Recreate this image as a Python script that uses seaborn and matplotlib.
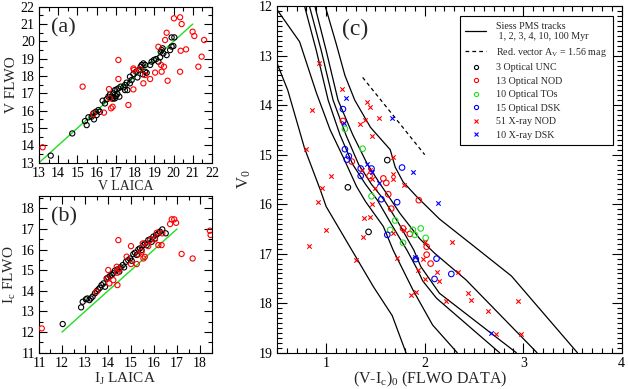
import numpy as np
import pandas as pd
import seaborn as sns
import matplotlib.pyplot as plt
from matplotlib.lines import Line2D
from matplotlib.ticker import MultipleLocator

# ---- panel (a): V FLWO vs V LAICA
a_blk_x = [13.61, 14.73, 15.39, 15.48, 15.57, 15.74, 15.83, 15.86, 15.95, 16.00, 16.09, 16.17,
           16.31, 16.43, 16.52, 16.61, 16.69, 16.78, 16.87, 16.95, 17.04, 17.08, 17.18, 16.95,
           17.13, 17.25, 17.39, 17.47, 17.56, 17.60, 17.73, 17.82, 17.91, 18.05, 18.12, 18.19,
           18.29, 18.34, 18.43, 18.52, 18.60, 18.78, 18.86, 18.98, 19.09, 19.21, 19.30, 19.33,
           19.38, 19.43, 19.47, 19.64, 19.82, 19.90, 19.99, 20.04, 19.90, 17.47, 16.87, 17.73,
           18.52, 17.00, 16.80, 18.40]
a_blk_y = [13.41, 14.69, 15.40, 15.17, 15.62, 15.66, 15.85, 15.50, 15.94, 15.75, 16.04, 15.94,
           16.58, 16.42, 16.66, 16.81, 16.94, 16.81, 17.00, 17.19, 17.23, 16.96, 16.81, 16.71,
           17.29, 17.39, 17.35, 17.48, 17.62, 17.19, 17.58, 17.77, 18.12, 18.25, 17.92, 18.35,
           18.54, 18.64, 18.73, 18.25, 18.19, 18.64, 18.83, 18.93, 18.98, 18.83, 19.08, 19.41,
           19.50, 19.60, 19.31, 19.21, 19.50, 19.70, 19.73, 20.23, 20.23, 17.19, 16.71, 17.96,
           18.64, 16.85, 16.70, 18.10]
a_red_x = [13.19, 15.27, 17.13, 17.13, 16.64, 16.69, 16.75, 16.83, 17.65, 16.38, 15.83, 17.91,
           17.91, 17.94, 18.26, 18.52, 18.78, 18.43, 19.04, 19.21, 19.35, 19.38, 19.50, 19.69,
           19.56, 19.64, 20.02, 20.34, 20.42, 20.37, 20.34, 20.65, 20.99, 21.08, 21.46, 21.29,
           21.59]
a_red_y = [13.89, 17.39, 18.93, 17.83, 17.25, 16.72, 16.14, 16.23, 16.33, 15.89, 15.81, 17.23,
           18.44, 18.35, 18.39, 18.06, 17.83, 17.58, 18.20, 19.69, 18.64, 18.25, 18.54, 17.73,
           20.08, 20.50, 21.33, 21.39, 21.00, 19.46, 18.25, 19.54, 20.56, 20.31, 19.12, 18.54,
           20.08]
a_line = [13, 21]

# ---- panel (b): Ic FLWO vs IJ LAICA
b_blk_x = [12.03, 12.83, 12.90, 13.04, 13.10, 13.19, 13.25, 13.33, 13.43, 13.51, 13.58, 13.65,
           13.72, 13.80, 13.87, 13.94, 14.01, 14.09, 14.16, 14.23, 14.30, 14.41, 14.49, 14.55,
           14.64, 14.70, 14.78, 14.88, 14.96, 15.03, 15.10, 15.17, 15.25, 15.32, 15.39, 15.46,
           15.54, 15.61, 15.68, 15.75, 15.83, 15.90, 15.97, 16.09, 16.19, 16.26, 16.36, 16.51,
           16.04]
b_blk_y = [12.39, 13.20, 13.47, 13.59, 13.63, 13.55, 13.63, 13.72, 13.88, 13.99, 14.07, 14.15,
           14.28, 14.36, 14.20, 14.60, 14.65, 14.72, 14.77, 14.85, 14.98, 15.04, 14.93, 15.14,
           15.25, 15.14, 15.41, 15.49, 15.57, 15.46, 15.78, 15.85, 15.74, 16.01, 16.06, 15.98,
           16.22, 16.30, 16.22, 16.46, 16.50, 16.38, 16.63, 16.71, 16.79, 16.87, 16.98, 16.79,
           16.54]
b_red_x = [11.12, 14.45, 14.01, 13.97, 14.06, 14.23, 14.41, 14.41, 14.49, 14.38, 14.81, 15.00,
           15.00, 15.25, 15.32, 15.46, 15.51, 15.54, 15.75, 15.83, 16.04, 16.12, 16.19, 16.33,
           16.36, 16.70, 16.77, 16.88, 16.96, 17.20, 17.68, 18.43, 18.46, 13.50, 15.60]
b_red_y = [12.18, 16.46, 15.01, 14.60, 14.36, 14.52, 14.28, 14.88, 15.04, 15.17, 15.66, 16.17,
           15.30, 15.30, 15.77, 15.90, 16.30, 15.57, 16.17, 16.46, 16.50, 16.82, 16.22, 16.22,
           16.79, 17.24, 17.47, 17.47, 17.30, 15.79, 15.57, 16.92, 16.71, 13.95, 15.65]
b_line = [12, 17]

# ---- panel (c): colour-magnitude diagram
track_ages = [100, 10, 4, 3, 2, 1]
track_x = [
    [0.50, 0.61, 0.78, 0.94, 1.00, 1.24, 1.48, 1.67, 1.81],
    [0.50, 0.73, 0.90, 1.04, 1.17, 1.31, 1.40, 1.58, 1.68, 1.88, 2.08, 2.33],
    [0.78, 0.90, 1.02, 1.14, 1.27, 1.40, 1.52, 1.66, 1.82, 1.92, 1.98, 2.12, 2.76],
    [0.83, 0.95, 1.07, 1.20, 1.33, 1.46, 1.59, 1.74, 1.89, 1.96, 2.15, 2.93],
    [0.885, 1.00, 1.12, 1.27, 1.42, 1.55, 1.66, 1.75, 1.95, 2.10, 2.42, 3.14],
    [0.99, 1.10, 1.19, 1.29, 1.45, 1.65, 1.70, 1.78, 1.92, 2.15, 2.50, 2.88, 3.55],
]
track_y = [
    [13.15, 13.70, 14.87, 15.71, 16.05, 16.86, 17.67, 18.25, 19.00],
    [12.07, 12.72, 13.75, 14.50, 15.04, 15.65, 15.95, 16.45, 16.93, 17.73, 18.44, 19.00],
    [12.00, 12.90, 13.90, 14.60, 15.20, 15.60, 15.92, 16.40, 16.93, 17.30, 17.55, 17.90, 19.00],
    [12.00, 12.90, 13.90, 14.60, 15.20, 15.60, 15.92, 16.40, 16.93, 17.26, 17.80, 19.00],
    [12.00, 12.90, 13.90, 14.60, 15.20, 15.60, 15.92, 16.19, 16.70, 16.99, 17.53, 19.00],
    [12.00, 12.75, 13.40, 13.90, 14.45, 14.90, 15.25, 15.55, 15.85, 16.30, 16.85, 17.45, 19.00],
]
red_vec_x = [1.37, 2.00]
red_vec_y = [13.44, 15.00]

unc_x = [1.62, 1.22, 1.43]
unc_y = [15.11, 15.66, 16.56]
nod_x = [1.17, 1.26, 1.44, 1.58, 1.61, 1.63, 1.94, 1.66, 1.78, 1.85, 2.02, 2.02, 2.06]
nod_y = [14.32, 15.14, 15.43, 15.48, 15.57, 15.80, 15.92, 16.09, 16.49, 16.60, 16.86, 17.02, 17.20]
tos_x = [1.19, 1.37, 1.46, 1.70, 1.65, 1.78, 1.88, 1.90, 1.96, 2.01]
tos_y = [14.48, 14.88, 15.84, 16.33, 16.52, 16.78, 16.52, 16.62, 16.49, 16.68]
dsk_x = [1.17, 1.19, 1.23, 1.21, 1.35, 1.46, 1.77, 1.35, 1.56, 1.72, 1.62, 1.91, 2.12, 2.27, 2.10]
dsk_y = [14.08, 14.89, 15.03, 15.10, 15.28, 15.28, 15.26, 15.43, 15.90, 15.96, 16.62, 17.11,
         17.10, 17.41, 17.51]
xnod_x = [0.93, 1.16, 0.86, 1.41, 1.44, 1.54, 1.39, 1.34, 1.46, 0.79, 1.68, 1.36, 1.05, 1.68,
          1.68, 1.46, 1.79, 0.96, 1.50, 0.92, 1.46, 1.38, 1.44, 1.00, 1.68, 1.79, 1.37, 0.83,
          2.00, 2.28, 1.30, 1.72, 1.98, 1.93, 2.12, 2.34, 2.00, 2.15, 1.91, 1.86, 2.44, 2.47,
          2.22, 2.95, 2.64, 2.72, 2.98, 1.44]
xnod_y = [13.14, 13.68, 14.10, 13.93, 14.03, 14.25, 14.30, 14.39, 14.62, 14.89, 15.04, 15.32,
          15.43, 15.39, 15.49, 15.50, 15.61, 15.67, 15.68, 15.95, 16.00, 16.27, 16.25, 16.52,
          16.59, 16.53, 16.66, 16.85, 16.77, 16.77, 17.12, 17.08, 17.11, 17.32, 17.38, 17.38,
          17.51, 17.56, 17.77, 17.84, 17.79, 17.94, 17.96, 17.95, 18.15, 18.63, 18.62, 15.31]
xdsk_x = [1.20, 1.18, 1.67, 1.41, 1.46, 1.88, 1.54, 2.13, 1.90, 2.67]
xdsk_y = [13.85, 14.37, 14.25, 15.18, 15.35, 15.36, 15.58, 15.97, 17.07, 18.60]

sns.set_style("ticks")
plt.rcParams['font.family'] = ['Liberation Serif', 'DejaVu Serif']
plt.rcParams['mathtext.fontset'] = 'custom'
plt.rcParams['mathtext.rm'] = 'Liberation Serif'
plt.rcParams['mathtext.it'] = 'Liberation Serif'
plt.rcParams['axes.linewidth'] = 0.8

fig = plt.figure(figsize=(6.28, 3.89), dpi=100)
ax_a = fig.add_axes([0.0621, 0.5817, 0.2755, 0.401])
ax_b = fig.add_axes([0.0621, 0.0933, 0.2747, 0.4028])
ax_c = fig.add_axes([0.441, 0.0933, 0.549, 0.891])


def circles(ax, xs, ys, col, s=14, label=None):
    sns.scatterplot(x=xs, y=ys, ax=ax, marker='o', s=s, color=col, facecolor='none',
                    edgecolor=col, linewidth=0.8, label=label, legend=False, zorder=3)


def crosses(ax, xs, ys, col, s=10, label=None):
    sns.scatterplot(x=xs, y=ys, ax=ax, marker='x', s=s, color=col, linewidth=0.8,
                    label=label, legend=False, zorder=3)


def style_ax(ax, major_len=5.5, minor_len=2.8):
    ax.tick_params(which='both', direction='in', top=True, right=True, width=0.8,
                   labelsize=10, pad=3, colors='k')
    ax.tick_params(which='major', length=major_len)
    ax.tick_params(which='minor', length=minor_len)
    for sp in ax.spines.values():
        sp.set_color('k')


# (a)
sns.lineplot(x=a_line, y=a_line, ax=ax_a, color='#22dd22', lw=1, zorder=2)
circles(ax_a, a_blk_x, a_blk_y, 'k')
circles(ax_a, a_red_x, a_red_y, 'red')
ax_a.set_xlim(13, 22)
ax_a.set_ylim(13, 22)
ax_a.xaxis.set_major_locator(MultipleLocator(1))
ax_a.yaxis.set_major_locator(MultipleLocator(1))
ax_a.xaxis.set_minor_locator(MultipleLocator(0.5))
ax_a.yaxis.set_minor_locator(MultipleLocator(0.5))
ax_a.set_xlabel('V LAICA', fontsize=10, labelpad=0)
ax_a.set_ylabel('V FLWO', fontsize=11, labelpad=2)
ax_a.text(0.07, 0.865, '(a)', transform=ax_a.transAxes, fontsize=16, va='center')
style_ax(ax_a)

# (b)
sns.lineplot(x=b_line, y=b_line, ax=ax_b, color='#22dd22', lw=1, zorder=2)
circles(ax_b, b_blk_x, b_blk_y, 'k')
circles(ax_b, b_red_x, b_red_y, 'red')
ax_b.set_xlim(11, 18.5)
ax_b.set_ylim(11, 18.6)
ax_b.xaxis.set_major_locator(MultipleLocator(1))
ax_b.yaxis.set_major_locator(MultipleLocator(1))
ax_b.xaxis.set_minor_locator(MultipleLocator(0.5))
ax_b.yaxis.set_minor_locator(MultipleLocator(0.5))
ax_b.set_xlabel(r'I$_\mathrm{J}$ LAICA', fontsize=11, labelpad=1)
ax_b.set_ylabel(r'I$_\mathrm{c}$ FLWO', fontsize=11, labelpad=2)
ax_b.text(0.07, 0.868, '(b)', transform=ax_b.transAxes, fontsize=16, va='center')
style_ax(ax_b)

# (c)
for tx, ty in zip(track_x, track_y):
    sns.lineplot(x=tx, y=ty, ax=ax_c, color='k', lw=0.9, sort=False, estimator=None,
                 legend=False)
sns.lineplot(x=red_vec_x, y=red_vec_y, ax=ax_c, color='k', lw=0.9, dashes=(3, 2.5),
             sort=False, estimator=None, legend=False)
circles(ax_c, unc_x, unc_y, 'k', s=16)
circles(ax_c, nod_x, nod_y, 'red', s=16)
circles(ax_c, tos_x, tos_y, '#22dd22', s=16)
circles(ax_c, dsk_x, dsk_y, 'blue', s=16)
crosses(ax_c, xnod_x, xnod_y, 'red', s=10)
crosses(ax_c, xdsk_x, xdsk_y, 'blue', s=10)
ax_c.set_xlim(0.5, 4)
ax_c.set_ylim(19, 12)
ax_c.xaxis.set_major_locator(MultipleLocator(1))
ax_c.yaxis.set_major_locator(MultipleLocator(1))
ax_c.xaxis.set_minor_locator(MultipleLocator(0.1))
ax_c.yaxis.set_minor_locator(MultipleLocator(0.1))
ax_c.set_xlabel(r'(V-I$_\mathrm{c}$)$_\mathrm{0}$ (FLWO DATA)', fontsize=11.5)
ax_c.xaxis.set_label_coords(0.443, -0.05)
ax_c.set_ylabel(r'V$_\mathrm{0}$', fontsize=12, labelpad=4)
ax_c.text(0.19, 0.934, '(c)', transform=ax_c.transAxes, fontsize=17, va='center')
style_ax(ax_c, major_len=7, minor_len=3.5)

mk = dict(ls='none', markersize=3, markerfacecolor='none', markeredgewidth=0.8)
handles = [
    Line2D([], [], color='k', lw=0.9),
    Line2D([], [], color='k', lw=0.9, dashes=(3, 2.5)),
    Line2D([], [], marker='o', color='k', **mk),
    Line2D([], [], marker='o', color='red', **mk),
    Line2D([], [], marker='o', color='#22dd22', **mk),
    Line2D([], [], marker='o', color='blue', **mk),
    Line2D([], [], marker='x', color='red', **mk),
    Line2D([], [], marker='x', color='blue', **mk),
]
labels = [
    'Siess PMS tracks\n 1, 2, 3, 4, 10, 100 Myr',
    r'Red. vector A$_\mathrm{V}$ = 1.56 mag',
    '3 Optical UNC', '13 Optical NOD', '10 Optical TOs', '15 Optical DSK',
    '51 X-ray NOD', '10 X-ray DSK',
]
leg = ax_c.legend(handles, labels, loc='upper right', bbox_to_anchor=(0.974, 0.971),
                  borderaxespad=0, fontsize=7.2, frameon=True, fancybox=False,
                  edgecolor='k', framealpha=1, handlelength=2.1, labelspacing=0.45,
                  borderpad=0.55, handletextpad=1.0)
leg.get_frame().set_linewidth(0.8)

fig.savefig('out.png', dpi=100)
